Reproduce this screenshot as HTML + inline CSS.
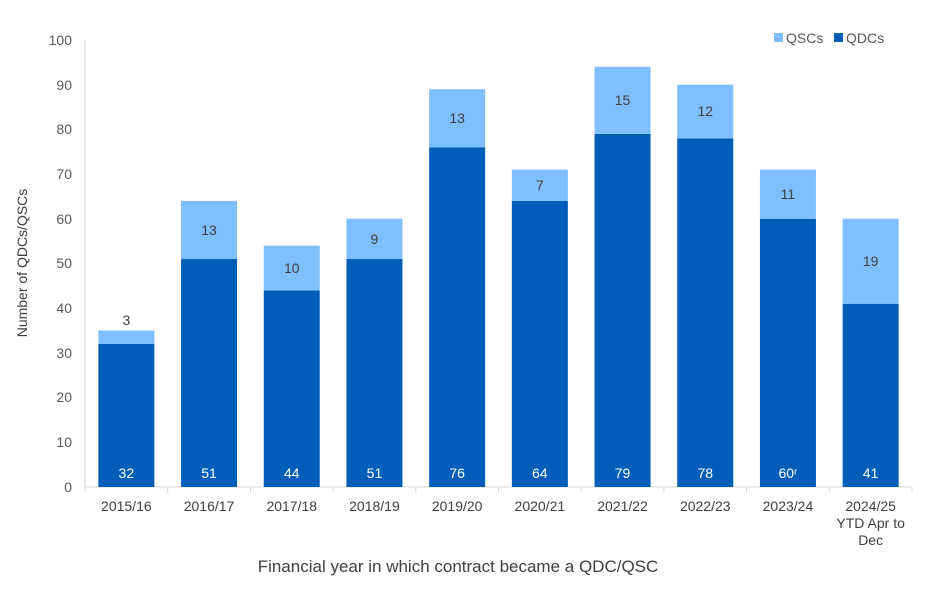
<!DOCTYPE html>
<html><head><style>body{margin:0;background:#fff}svg{display:block;font-family:"Liberation Sans",Arial,sans-serif}</style></head>
<body>
<svg width="930" height="598" xmlns="http://www.w3.org/2000/svg">
<line x1="85" y1="40" x2="85" y2="487" stroke="#d9d9d9"/>
<line x1="85" y1="487" x2="912" y2="487" stroke="#d9d9d9"/>
<g font-size="14" fill="#595959" text-anchor="end">
<text x="72" y="492">0</text><text x="72" y="447">10</text><text x="72" y="402">20</text><text x="72" y="358">30</text><text x="72" y="313">40</text><text x="72" y="268">50</text><text x="72" y="224">60</text><text x="72" y="179">70</text><text x="72" y="134">80</text><text x="72" y="90">90</text><text x="72" y="45">100</text>
</g>
<g stroke="#d9d9d9">
<line x1="85" y1="487" x2="85" y2="493"/><line x1="167.7" y1="487" x2="167.7" y2="493"/><line x1="250.4" y1="487" x2="250.4" y2="493"/><line x1="333.1" y1="487" x2="333.1" y2="493"/><line x1="415.8" y1="487" x2="415.8" y2="493"/><line x1="498.5" y1="487" x2="498.5" y2="493"/><line x1="581.2" y1="487" x2="581.2" y2="493"/><line x1="663.9" y1="487" x2="663.9" y2="493"/><line x1="746.6" y1="487" x2="746.6" y2="493"/><line x1="829.3" y1="487" x2="829.3" y2="493"/><line x1="912" y1="487" x2="912" y2="493"/>
</g>
<g fill="#005eb8">
<rect x="98.35" y="343.96" width="56" height="143.04"/>
<rect x="181.05" y="259.03" width="56" height="227.97"/>
<rect x="263.75" y="290.32" width="56" height="196.68"/>
<rect x="346.45" y="259.03" width="56" height="227.97"/>
<rect x="429.15" y="147.28" width="56" height="339.72"/>
<rect x="511.85" y="200.92" width="56" height="286.08"/>
<rect x="594.55" y="133.87" width="56" height="353.13"/>
<rect x="677.25" y="138.34" width="56" height="348.66"/>
<rect x="759.95" y="218.8" width="56" height="268.2"/>
<rect x="842.65" y="303.73" width="56" height="183.27"/>
</g>
<g fill="#7fbfff">
<rect x="98.35" y="330.55" width="56" height="13.41"/>
<rect x="181.05" y="200.92" width="56" height="58.11"/>
<rect x="263.75" y="245.62" width="56" height="44.7"/>
<rect x="346.45" y="218.8" width="56" height="40.23"/>
<rect x="429.15" y="89.17" width="56" height="58.11"/>
<rect x="511.85" y="169.63" width="56" height="31.29"/>
<rect x="594.55" y="66.82" width="56" height="67.05"/>
<rect x="677.25" y="84.7" width="56" height="53.64"/>
<rect x="759.95" y="169.63" width="56" height="49.17"/>
<rect x="842.65" y="218.8" width="56" height="84.93"/>
</g>
<g font-size="14" fill="#fff" text-anchor="middle">
<text x="126.35" y="478">32</text><text x="209.05" y="478">51</text><text x="291.75" y="478">44</text><text x="374.45" y="478">51</text><text x="457.15" y="478">76</text><text x="539.85" y="478">64</text><text x="622.55" y="478">79</text><text x="705.25" y="478">78</text><text x="787.95" y="478">60ʳ</text><text x="870.65" y="478">41</text>
</g>
<g font-size="14" fill="#404040" text-anchor="middle">
<text x="126.35" y="325">3</text><text x="209.05" y="235">13</text><text x="291.75" y="273">10</text><text x="374.45" y="244">9</text><text x="457.15" y="123">13</text><text x="539.85" y="190">7</text><text x="622.55" y="105">15</text><text x="705.25" y="116">12</text><text x="787.95" y="199">11</text><text x="870.65" y="266">19</text>
</g>
<g font-size="14" fill="#404040" text-anchor="middle">
<text x="126.35" y="511">2015/16</text><text x="209.05" y="511">2016/17</text><text x="291.75" y="511">2017/18</text><text x="374.45" y="511">2018/19</text><text x="457.15" y="511">2019/20</text><text x="539.85" y="511">2020/21</text><text x="622.55" y="511">2021/22</text><text x="705.25" y="511">2022/23</text><text x="787.95" y="511">2023/24</text><text x="870.65" y="511">2024/25</text><text x="870.65" y="528">YTD Apr to</text><text x="870.65" y="545">Dec</text>
</g>
<text transform="translate(27,263) rotate(-90)" font-size="14" fill="#404040" text-anchor="middle">Number of QDCs/QSCs</text>
<text x="458" y="572" font-size="17" fill="#404040" text-anchor="middle">Financial year in which contract became a QDC/QSC</text>
<rect x="774" y="33" width="9" height="9" fill="#7fbfff"/><text x="786" y="43" font-size="14" fill="#595959">QSCs</text>
<rect x="834" y="33" width="9" height="9" fill="#005eb8"/><text x="846" y="43" font-size="14" fill="#595959">QDCs</text>
</svg>
</body></html>
